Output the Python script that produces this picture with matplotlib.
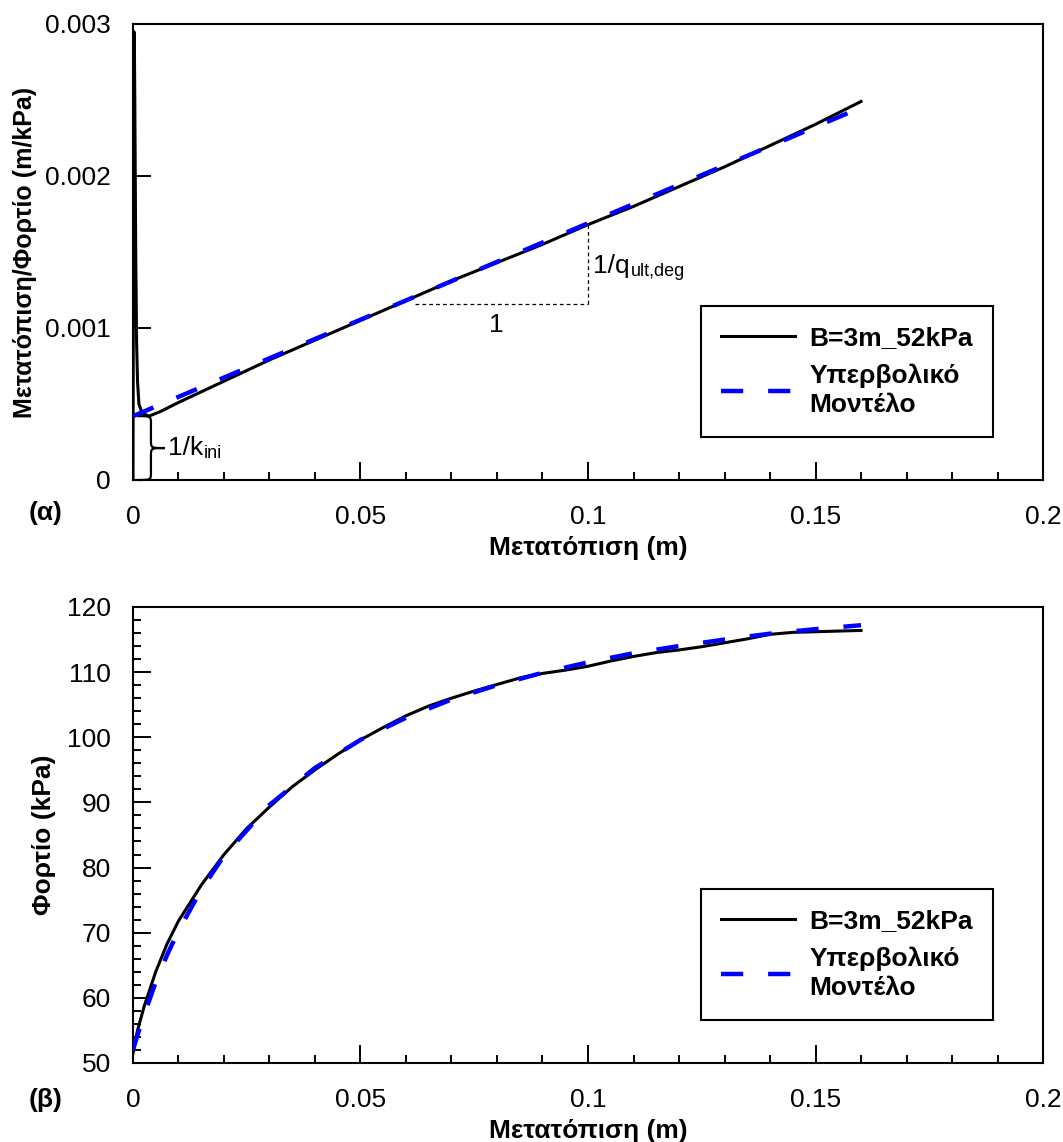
import numpy as np
import matplotlib.pyplot as plt
from matplotlib.path import Path
from matplotlib.patches import PathPatch
from matplotlib.lines import Line2D
from matplotlib.ticker import MultipleLocator, FuncFormatter, NullLocator

plt.rcParams['font.family'] = ['Liberation Sans', 'DejaVu Sans']

# (α) μετατόπιση / (φορτίο - 52 kPa), μετρήσεις
meas_s_top = [0.0, 0.0001, 0.0002, 0.0003, 0.0004, 0.0006, 0.0008, 0.001, 0.0013,
              0.002, 0.0035, 0.006, 0.01, 0.015, 0.02, 0.03, 0.04, 0.05, 0.06,
              0.07, 0.08, 0.09, 0.1, 0.11, 0.12, 0.13, 0.14, 0.15, 0.16]
meas_r_top = [0.0, 0.0015, 0.00295, 0.0029, 0.0025, 0.0015, 0.0009, 0.00065, 0.0005,
              0.00044, 0.00042, 0.00045, 0.00051, 0.00058, 0.00065, 0.00079, 0.00092,
              0.00105, 0.00118, 0.00131, 0.00143, 0.00155, 0.00168, 0.0018, 0.00193,
              0.00206, 0.0022, 0.00234, 0.00249]

# (α) υπερβολικό μοντέλο (ευθεία)
model_s_top = [0.0, 0.16]
model_r_top = [0.00042, 0.00245]

# (β) φορτίο - μετατόπιση, μετρήσεις
meas_s = [0.0, 0.001, 0.0025, 0.005, 0.0075, 0.01, 0.015, 0.02, 0.025, 0.03, 0.035,
          0.04, 0.045, 0.05, 0.055, 0.06, 0.065, 0.07, 0.075, 0.08, 0.085, 0.09,
          0.095, 0.1, 0.105, 0.11, 0.115, 0.12, 0.125, 0.13, 0.135, 0.14, 0.145,
          0.15, 0.155, 0.16]
meas_q = [51.5, 55.0, 58.8, 64.0, 68.3, 71.8, 77.3, 82.0, 86.0, 89.3, 92.4,
          95.0, 97.4, 99.6, 101.5, 103.3, 104.8, 106.0, 107.1, 108.1, 109.1, 109.8,
          110.3, 110.9, 111.7, 112.4, 113.0, 113.4, 113.9, 114.5, 115.1, 115.8, 116.1,
          116.2, 116.3, 116.4]

# (β) υπερβολικό μοντέλο
model_s = [0.0, 0.001, 0.0025, 0.005, 0.0075, 0.01, 0.015, 0.02, 0.03, 0.04, 0.05,
           0.06, 0.07, 0.08, 0.09, 0.1, 0.11, 0.12, 0.13, 0.14, 0.15, 0.16]
model_q = [52.0, 54.3, 57.5, 62.4, 66.6, 70.3, 76.6, 81.8, 89.6, 95.3, 99.6,
           103.0, 105.8, 108.0, 109.9, 111.5, 112.9, 114.0, 115.0, 115.9, 116.6, 117.2]

legend_labels = ['B=3m_52kPa', 'Υπερβολικό\nΜοντέλο']
xlabel = 'Μετατόπιση (m)'

FS = 19
BLACK_LW = 2.2
BLUE_LW = 3.2
BLUE_DASH = (0, (5, 5.6))


def style_axes(ax):
    ax.tick_params(which='both', direction='in', top=False, right=False,
                   width=1.4, labelsize=FS, pad=18)
    ax.tick_params(which='major', length=13)
    ax.tick_params(which='minor', length=5.5)
    ax.tick_params(axis='y', pad=16)
    for sp in ax.spines.values():
        sp.set_linewidth(1.5)
    ax.set_xlim(0, 0.2)
    ax.xaxis.set_major_locator(MultipleLocator(0.05))
    ax.xaxis.set_minor_locator(MultipleLocator(0.01))
    ax.xaxis.set_major_formatter(FuncFormatter(lambda v, p: '%g' % v))
    ax.set_xlabel(xlabel, fontsize=FS, fontweight='bold', labelpad=5)


def add_legend(ax):
    handles = [Line2D([], [], color='black', lw=BLACK_LW),
               Line2D([], [], color='blue', lw=BLUE_LW, ls=BLUE_DASH)]
    leg = ax.legend(handles, legend_labels, loc='lower right',
                    bbox_to_anchor=(0.945, 0.094), frameon=True, fancybox=False,
                    edgecolor='black', framealpha=1,
                    prop={'weight': 'bold', 'size': FS},
                    handlelength=2.8, handletextpad=0.55, borderpad=0.75,
                    labelspacing=0.5, borderaxespad=0)
    leg.get_frame().set_linewidth(1.5)
    for t in leg.get_texts():
        t.set_linespacing(1.3)


def label_sub(ax, x, y, main, sub):
    # κείμενο με δείκτη (π.χ. 1/k_ini)
    t = ax.text(x, y, main, fontsize=FS, ha='left', va='center')
    ax.annotate(sub, xy=(1.0, 0.0), xycoords=t, xytext=(0.5, 1.5),
                textcoords='offset points', fontsize=13, ha='left', va='baseline')


def brace(ax, x0, x1, y0, y1, r):
    # άγκιστρο "}" από y0 έως y1, με μύτη στο x1
    xm = (x0 + x1) / 2
    ym = (y0 + y1) / 2
    verts = [(x0, y0), (xm, y0), (xm, y0), (xm, y0 + r),
             (xm, ym - r),
             (xm, ym), (xm, ym), (x1, ym),
             (xm, ym), (xm, ym), (xm, ym + r),
             (xm, y1 - r),
             (xm, y1), (xm, y1), (x0, y1)]
    codes = [Path.MOVETO, Path.CURVE4, Path.CURVE4, Path.CURVE4,
             Path.LINETO,
             Path.CURVE4, Path.CURVE4, Path.CURVE4,
             Path.CURVE4, Path.CURVE4, Path.CURVE4,
             Path.LINETO,
             Path.CURVE4, Path.CURVE4, Path.CURVE4]
    ax.add_patch(PathPatch(Path(verts, codes), fill=False, lw=1.6,
                           edgecolor='black', clip_on=False))


fig = plt.figure(figsize=(10.63, 11.42), dpi=100)
ax1 = fig.add_axes([0.1251, 0.5797, 0.8561, 0.3993])
ax2 = fig.add_axes([0.1251, 0.0692, 0.8561, 0.3993])

# ---- (α) ----
ax1.plot(meas_s_top, meas_r_top, color='black', lw=BLACK_LW, zorder=3)
ax1.plot(model_s_top, model_r_top, color='blue', lw=BLUE_LW, ls=BLUE_DASH, zorder=4)
style_axes(ax1)
ax1.set_ylim(0, 0.003)
ax1.yaxis.set_major_locator(MultipleLocator(0.001))
ax1.yaxis.set_minor_locator(NullLocator())
ax1.yaxis.set_major_formatter(FuncFormatter(lambda v, p: '%g' % v))
ax1.set_ylabel('Μετατόπιση/Φορτίο (m/kPa)', fontsize=18, fontweight='bold', labelpad=6)

# τρίγωνο κλίσης 1/q_ult,deg
s_corner = 0.1
r_corner = 0.00116
r_top = np.interp(s_corner, model_s_top, model_r_top)
ax1.plot([0.062, s_corner], [r_corner, r_corner], color='black', lw=0.9, ls=(0, (3, 2.5)))
ax1.plot([s_corner, s_corner], [r_corner, r_top], color='black', lw=0.9, ls=(0, (3, 2.5)))
ax1.text(0.0798, 0.00102, '1', fontsize=FS, ha='center', va='center')
label_sub(ax1, 0.1012, 0.00141, '1/q', 'ult,deg')

# άγκιστρο 1/k_ini
brace(ax1, 0.0009, 0.007, 0.0, model_r_top[0], 0.00005)
label_sub(ax1, 0.0077, model_r_top[0] / 2, '1/k', 'ini')
add_legend(ax1)

# ---- (β) ----
ax2.plot(meas_s, meas_q, color='black', lw=BLACK_LW, zorder=3)
ax2.plot(model_s, model_q, color='blue', lw=BLUE_LW, ls=BLUE_DASH, zorder=4)
style_axes(ax2)
ax2.set_ylim(50, 120)
ax2.yaxis.set_major_locator(MultipleLocator(10))
ax2.yaxis.set_minor_locator(MultipleLocator(2))
ax2.set_ylabel('Φορτίο (kPa)', fontsize=FS, fontweight='bold', labelpad=8)
add_legend(ax2)

fig.text(46 / 1063, 1 - 513 / 1142, '(α)', fontsize=FS, fontweight='bold',
         ha='center', va='center')
fig.text(46 / 1063, 1 - 1100 / 1142, '(β)', fontsize=FS, fontweight='bold',
         ha='center', va='center')

fig.savefig('out.png', dpi=100)
